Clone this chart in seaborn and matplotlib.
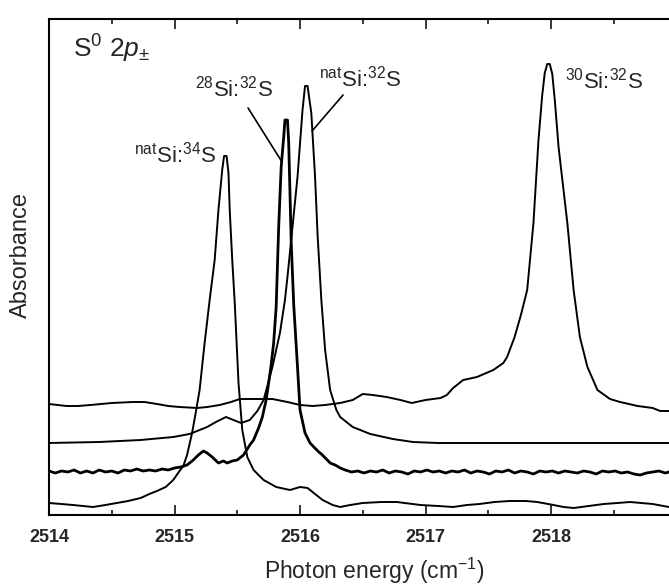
import numpy as np
import pandas as pd
import matplotlib
matplotlib.use("Agg")
import matplotlib.pyplot as plt
import seaborn as sns
from matplotlib.ticker import MultipleLocator, NullLocator

sns.set_style("ticks")
plt.rcParams.update({
    "font.family": ["Liberation Sans", "DejaVu Sans"],
    "mathtext.fontset": "custom",
    "mathtext.rm": "Liberation Sans",
    "mathtext.it": "Liberation Sans:italic",
    "mathtext.bf": "Liberation Sans:bold",
})

# ---------------- data (photon energy in cm^-1, absorbance in arb. units incl. offset) ----------------
x_30 = [2514.00, 2514.07, 2514.14, 2514.23, 2514.33, 2514.50, 2514.67, 2514.76, 2514.86, 2514.95,
        2515.04, 2515.18, 2515.26, 2515.36, 2515.45, 2515.52, 2515.65, 2515.78, 2515.90, 2516.00,
        2516.10, 2516.20, 2516.32, 2516.42, 2516.50, 2516.58, 2516.69, 2516.80, 2516.89, 2517.00,
        2517.12, 2517.17, 2517.22, 2517.30, 2517.41, 2517.54, 2517.62, 2517.65, 2517.68, 2517.71,
        2517.76, 2517.81, 2517.86, 2517.90, 2517.93, 2517.95, 2517.97, 2517.99, 2518.01, 2518.03,
        2518.06, 2518.13, 2518.18, 2518.23, 2518.29, 2518.37, 2518.47, 2518.55, 2518.69, 2518.81,
        2518.87, 2518.94]
y_30 = [111, 110, 109, 109, 110, 112, 113, 113, 111, 109,
        108, 107, 108, 110, 113, 116, 116, 116, 113, 110,
        109, 110, 112, 115, 121, 120, 118, 115, 112, 115,
        117, 120, 127, 135, 138, 145, 152, 158, 168, 178,
        200, 225, 292, 375, 420, 442, 451, 451, 441, 415,
        368, 292, 225, 178, 148, 125, 116, 113, 109, 107,
        104, 104]

x_nat32 = [2514.00, 2514.40, 2514.73, 2514.99, 2515.12, 2515.26, 2515.33, 2515.41, 2515.47, 2515.53,
           2515.60, 2515.66, 2515.71, 2515.78, 2515.84, 2515.88, 2515.90, 2515.94, 2515.98, 2516.02,
           2516.04, 2516.06, 2516.09, 2516.12, 2516.14, 2516.17, 2516.20, 2516.24, 2516.29, 2516.32,
           2516.42, 2516.56, 2516.74, 2516.90, 2517.10, 2517.50, 2518.00, 2518.94]
y_nat32 = [72, 73, 75, 78, 81, 88, 93, 98, 95, 92,
           95, 104, 115, 148, 182, 215, 238, 288, 338, 405,
           429, 429, 402, 338, 280, 215, 165, 125, 105, 98,
           88, 81, 76, 73, 72, 72, 72, 72]

x_28 = [2514.00, 2514.05, 2514.10, 2514.15, 2514.20, 2514.25, 2514.30, 2514.35, 2514.40, 2514.45,
        2514.50, 2514.55, 2514.60, 2514.65, 2514.70, 2514.75, 2514.80, 2514.85, 2514.90, 2514.95,
        2515.00, 2515.05, 2515.10, 2515.15, 2515.19, 2515.23, 2515.26, 2515.30, 2515.35, 2515.39,
        2515.42, 2515.46, 2515.50, 2515.55, 2515.60, 2515.63, 2515.67, 2515.70, 2515.73, 2515.75,
        2515.77, 2515.79, 2515.81, 2515.83, 2515.85, 2515.87, 2515.88, 2515.90, 2515.91, 2515.92,
        2515.93, 2515.95, 2515.98, 2516.00, 2516.04, 2516.08, 2516.11, 2516.15, 2516.17, 2516.21,
        2516.24, 2516.28, 2516.32, 2516.36, 2516.41, 2516.46, 2516.51, 2516.56, 2516.61, 2516.66,
        2516.71, 2516.76, 2516.81, 2516.86, 2516.91, 2516.96, 2517.01, 2517.06, 2517.11, 2517.16,
        2517.21, 2517.26, 2517.31, 2517.36, 2517.41, 2517.46, 2517.51, 2517.56, 2517.61, 2517.66,
        2517.71, 2517.76, 2517.81, 2517.86, 2517.91, 2517.96, 2518.01, 2518.06, 2518.11, 2518.16,
        2518.21, 2518.26, 2518.31, 2518.36, 2518.41, 2518.46, 2518.51, 2518.56, 2518.61, 2518.66,
        2518.71, 2518.76, 2518.81, 2518.86, 2518.91, 2518.94]
y_28 = [44, 42, 44, 43, 45, 42, 44, 42, 45, 43,
        44, 42, 45, 44, 46, 44, 45, 44, 46, 45,
        47, 48, 50, 55, 60, 64, 62, 58, 52, 54,
        52, 54, 55, 60, 70, 75, 87, 98, 115, 132,
        150, 172, 208, 288, 348, 378, 395, 395, 372, 322,
        272, 210, 148, 105, 82, 72, 68, 63, 61, 56,
        52, 50, 47, 45, 43, 44, 42, 44, 43, 45,
        42, 44, 43, 41, 44, 43, 45, 43, 44, 42,
        44, 43, 45, 42, 44, 43, 41, 44, 43, 45,
        42, 44, 43, 41, 44, 43, 44, 42, 44, 43,
        42, 44, 43, 41, 44, 43, 44, 42, 43, 41,
        40, 42, 43, 44, 42, 43]

x_nat34 = [2514.00, 2514.10, 2514.19, 2514.27, 2514.35, 2514.45, 2514.54, 2514.63, 2514.73, 2514.80,
           2514.86, 2514.93, 2514.99, 2515.04, 2515.07, 2515.10, 2515.14, 2515.17, 2515.20, 2515.24,
           2515.28, 2515.32, 2515.35, 2515.38, 2515.395, 2515.415, 2515.43, 2515.44, 2515.46, 2515.48,
           2515.51, 2515.54, 2515.58, 2515.63, 2515.71, 2515.81, 2515.92, 2516.00, 2516.06, 2516.11,
           2516.18, 2516.26, 2516.32, 2516.40, 2516.50, 2516.65, 2516.77, 2516.96, 2517.10, 2517.22,
           2517.33, 2517.43, 2517.55, 2517.67, 2517.80, 2517.89, 2518.02, 2518.10, 2518.18, 2518.30,
           2518.42, 2518.53, 2518.63, 2518.72, 2518.81, 2518.94]
y_nat34 = [12, 11, 10, 9, 8, 10, 12, 14, 17, 21,
           24, 28, 35, 44, 49, 60, 82, 103, 125, 172,
           215, 255, 305, 345, 359, 359, 342, 305, 255, 212,
           132, 85, 58, 45, 35, 28, 25, 28, 27, 22,
           15, 10, 8, 10, 12, 13, 13, 10, 9, 8,
           10, 11, 13, 14, 14, 13, 10, 8, 7, 9,
           11, 12, 13, 12, 11, 8]

traces = ["30Si:32S", "natSi:32S", "28Si:32S", "natSi:34S"]
xs = [x_30, x_nat32, x_28, x_nat34]
ys = [y_30, y_nat32, y_28, y_nat34]
widths = [1.4, 1.4, 2.0, 1.4]

df = pd.concat([pd.DataFrame({"energy": x, "absorbance": y, "trace": t})
                for t, x, y in zip(traces, xs, ys)], ignore_index=True)

# ---------------- figure ----------------
fig = plt.figure(figsize=(6.69, 5.88), dpi=100)
ax = fig.add_axes([49 / 669, 73 / 588, 620 / 669, 496 / 588])

for t, lw in zip(traces, widths):
    sns.lineplot(data=df[df["trace"] == t], x="energy", y="absorbance",
                 color="black", linewidth=lw, estimator=None, sort=False, ax=ax)

ax.set_xlim(2514, 2518.94)
ax.set_ylim(0, 496)

ax.xaxis.set_major_locator(MultipleLocator(1))
ax.xaxis.set_minor_locator(MultipleLocator(0.5))
ax.yaxis.set_major_locator(NullLocator())
ax.tick_params(axis="x", which="both", direction="in", top=True, bottom=True,
               width=1.1, color="black")
ax.tick_params(axis="x", which="major", length=7, pad=10, labelsize=13)
ax.tick_params(axis="x", which="minor", length=3.6)
for lab in ax.get_xticklabels():
    lab.set_fontweight("bold")

for side in ["left", "bottom", "top"]:
    ax.spines[side].set_linewidth(1.5)
    ax.spines[side].set_color("black")
ax.spines["right"].set_visible(False)

ax.set_xlabel("Photon energy (cm$^{-1}$)", fontsize=16.5)
ax.xaxis.set_label_coords(0.524, -0.082)
ax.set_ylabel("Absorbance", fontsize=17)
ax.yaxis.set_label_coords(-0.027, 0.524)

# annotations
ax.text(2514.19, 457, "S$^{0}$ 2$p_{\\pm}$", fontsize=19, ha="left", va="baseline")
ax.text(2515.163, 418, "$^{28}$Si:$^{32}$S", fontsize=16, ha="left", va="baseline")
ax.text(2516.151, 428, "$^{\\mathrm{nat}}$Si:$^{32}$S", fontsize=16, ha="left", va="baseline")
ax.text(2514.677, 352, "$^{\\mathrm{nat}}$Si:$^{34}$S", fontsize=16, ha="left", va="baseline")
ax.text(2518.11, 427, "$^{30}$Si:$^{32}$S", fontsize=16, ha="left", va="baseline")

ax.plot([2515.586, 2515.857], [407, 353], color="black", lw=1.2)
ax.plot([2516.343, 2516.096], [420, 384], color="black", lw=1.2)

fig.savefig("out.png", dpi=100)
